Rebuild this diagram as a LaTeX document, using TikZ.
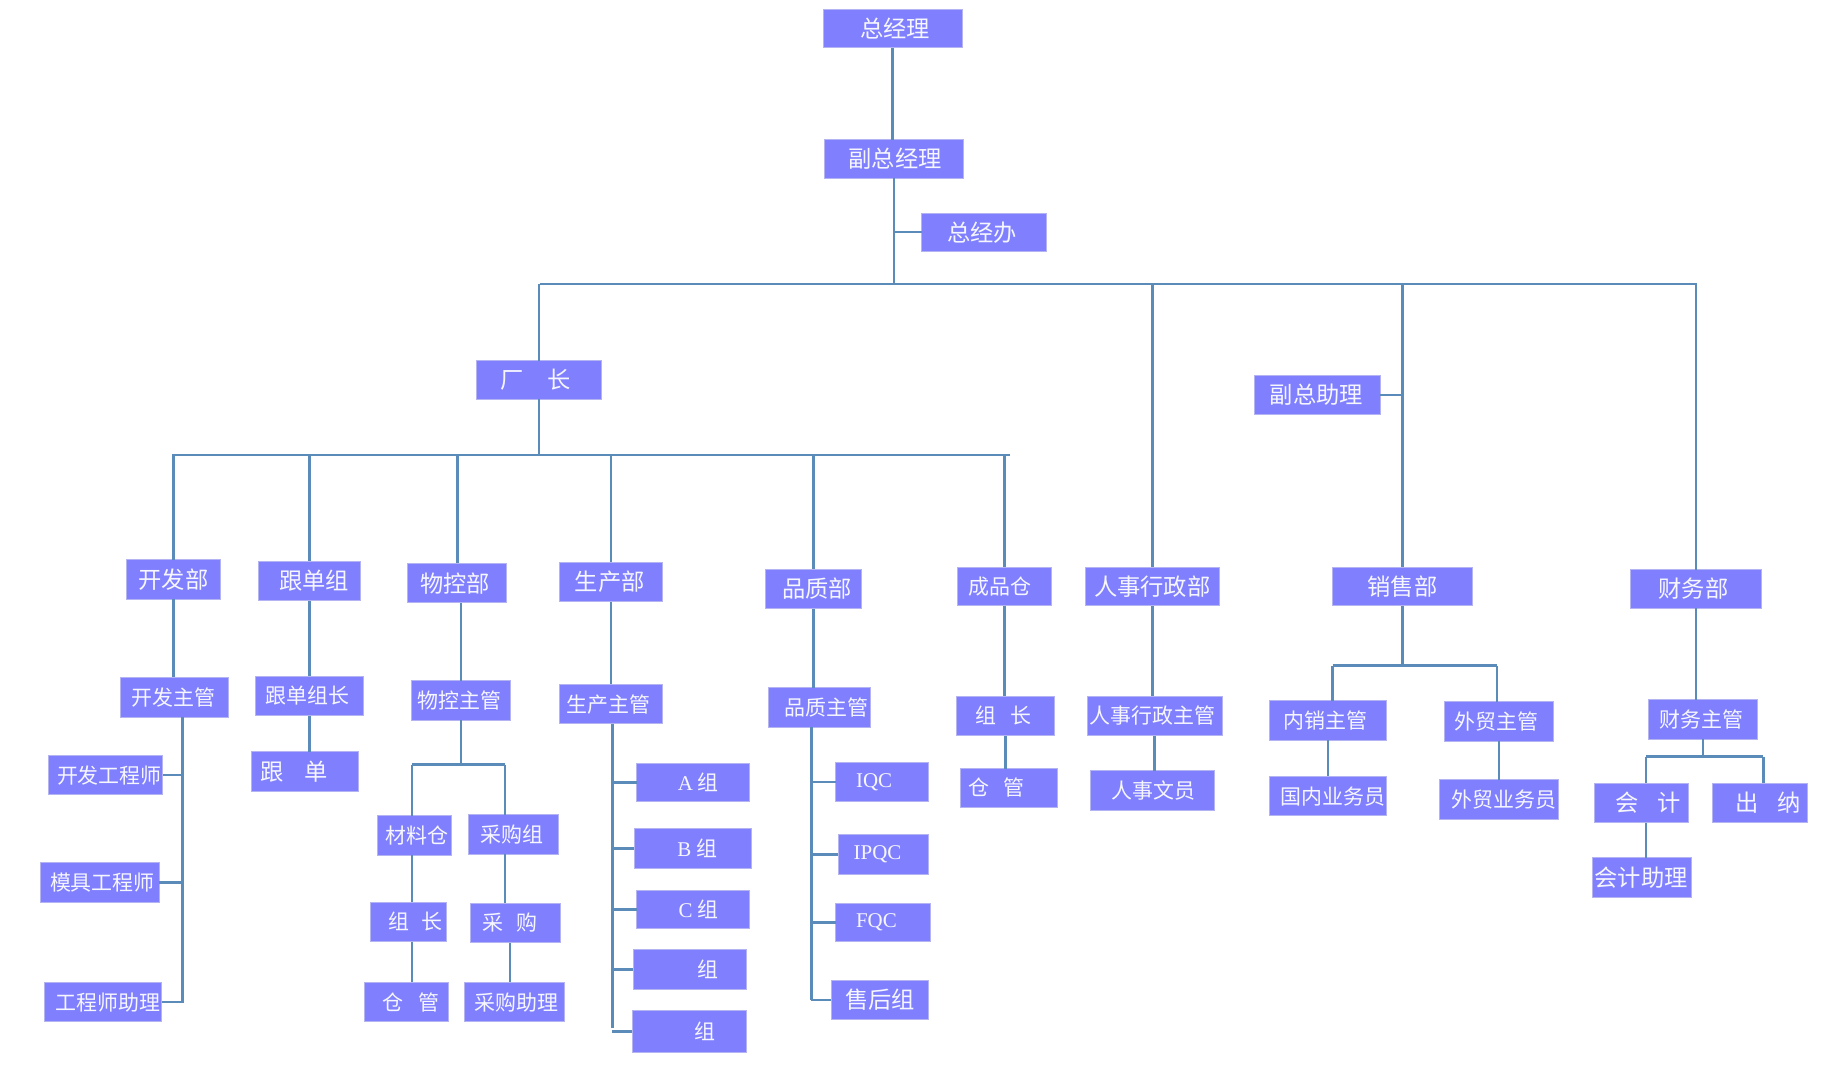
\documentclass[tikz,border=0pt]{standalone}
\usepackage{fontspec}
\setmainfont{Liberation Serif}
\newfontfamily\cjk{Noto Sans CJK SC}
\definecolor{boxfill}{HTML}{8080FF}
\definecolor{boxedge}{HTML}{B4B4F2}
\definecolor{linecol}{HTML}{5B8BB8}
\definecolor{txtcol}{HTML}{F6F6FF}
\tikzset{
  box/.style={fill=boxfill, draw=boxedge, line width=0.8pt, inner sep=0pt, outer sep=0pt},
  txt/.style={text=txtcol, inner sep=0pt, font=\cjk\fontsize{18}{18}\selectfont},
  big/.style={text=txtcol, inner sep=0pt, font=\cjk\fontsize{20}{20}\selectfont},
  ln/.style={draw=linecol, line width=2.2pt},
}
% name, cx, cy, w, h, text x, text style, text
\newcommand\bx[8]{%
  \node[box, minimum width=#4pt, minimum height=#5pt] (#1) at (#2,#3) {};
  \node[#7] (#1t) at (#6,#3) {#8};}
\newcommand\lt[1]{{\rmfamily #1}}
\begin{document}
\begin{tikzpicture}[x=1pt,y=-1pt]
\useasboundingbox (-2,-1) rectangle (1566,923.5);
% ---------- top ----------
\bx{zjl}{765}{23.5}{119}{33}{767}{big}{总经理}
\bx{fzjl}{766}{135.5}{120}{33}{767}{big}{副总经理}
\bx{zjb}{843.5}{198.5}{107}{33}{842}{big}{总经办}
\bx{cz}{461}{325.5}{108}{33}{458}{big}{厂\hspace{1em}长}
\bx{fzzl}{1130}{338.5}{108}{33}{1129}{big}{副总助理}
% ---------- departments ----------
\bx{kfb}{147}{497}{81}{34}{147}{big}{开发部}
\bx{gdz}{264}{498}{88}{34}{268}{big}{跟单组}
\bx{wkb}{391}{500}{85}{34}{389}{big}{物控部}
\bx{scb}{523}{499}{89}{34}{522}{big}{生产部}
\bx{pzb}{697}{505}{83}{34}{700}{big}{品质部}
\bx{cpc}{861}{503}{81}{33}{857}{txt}{成品仓}
\bx{rsb}{988}{503}{115}{33}{988}{big}{人事行政部}
\bx{xsb}{1203}{503}{120}{33}{1203}{big}{销售部}
\bx{cwb}{1455}{505}{113}{33}{1453}{big}{财务部}
% ---------- supervisors ----------
\bx{kfzg}{148}{598}{93}{34}{147}{txt}{开发主管}
\bx{gdzz}{264}{597}{93}{34}{262}{txt}{跟单组长}
\bx{gd}{260}{662}{92}{34}{251}{big}{跟\hspace{0.9em}单}
\bx{wkzg}{394}{601}{85}{34}{393}{txt}{物控主管}
\bx{sczg}{523}{604}{89}{34}{521}{txt}{生产主管}
\bx{pzzg}{702}{607}{87}{34}{708}{txt}{品质主管}
\bx{zz1}{862}{614}{84}{34}{860}{txt}{组\hspace{0.7em}长}
\bx{cg1}{865}{676}{83}{33}{854}{txt}{仓\hspace{0.7em}管}
\bx{rszg}{990}{614}{116}{34}{988}{txt}{人事行政主管}
\bx{rswy}{988}{678}{107}{34}{989}{txt}{人事文员}
\bx{nxzg}{1139}{618}{100}{34}{1137}{txt}{内销主管}
\bx{wmzg}{1286}{619}{94}{34}{1284}{txt}{外贸主管}
\bx{gnyw}{1139}{683}{101}{34}{1143}{txt}{国内业务员}
\bx{wmyw}{1286}{686}{102}{34}{1290}{txt}{外贸业务员}
\bx{cwzg}{1461}{617}{94}{34}{1460}{txt}{财务主管}
\bx{kj}{1408}{689}{81}{34}{1414}{big}{会\hspace{0.8em}计}
\bx{cn}{1510}{689}{82}{34}{1517}{big}{出\hspace{0.8em}纳}
\bx{kjzl}{1409}{753}{85}{34}{1408}{big}{会计助理}
% ---------- 开发 ----------
\bx{kfgc}{89}{665}{98}{34}{92}{txt}{开发工程师}
\bx{mjgc}{84}{757}{102}{34}{86}{txt}{模具工程师}
\bx{gczl}{86.5}{860}{101}{34}{91}{txt}{工程师助理}
% ---------- 物控 ----------
\bx{clc}{354}{717}{64}{34}{356}{txt}{材料仓}
\bx{cgz}{439}{716}{77}{34}{438}{txt}{采购组}
\bx{zz2}{349}{791}{66}{34}{355}{txt}{组\hspace{0.6em}长}
\bx{cg}{441}{792}{77}{34}{436}{txt}{采\hspace{0.6em}购}
\bx{cgg}{347}{860}{72}{34}{351}{txt}{仓\hspace{0.7em}管}
\bx{cgzl}{440}{860}{86}{34}{442}{txt}{采购助理}
% ---------- 生产 ----------
\bx{za}{593.5}{671.5}{97}{33}{598}{txt}{\lt{A} 组}
\bx{zb}{593.5}{728}{101}{34}{597}{txt}{\lt{B} 组}
\bx{zc}{593.5}{780.5}{97}{33}{598}{txt}{\lt{C} 组}
\bx{zd}{590.5}{832}{97}{34}{606}{txt}{组}
\bx{ze}{590}{885}{98}{36}{604}{txt}{组}
% ---------- 品质 ----------
\bx{iqc}{756}{671}{80}{34}{749}{txt}{\lt{IQC}}
\bx{ipqc}{757}{733}{78}{34}{752}{txt}{\lt{IPQC}}
\bx{fqc}{756.5}{791.5}{81}{33}{751}{txt}{\lt{FQC}}
\bx{shz}{754}{858}{84}{34}{754}{big}{售后组}
% ---------- coordinates ----------
\coordinate (m0) at (462,243);
\coordinate (m1) at (1456,243);
\coordinate (c0) at (146,390);
\coordinate (c1) at (866,390);
\coordinate (k1) at (155,861);
\coordinate (w1) at (352,656);
\coordinate (w2) at (432,656);
\coordinate (p1) at (524,882);
\coordinate (q1) at (695,624);
\coordinate (s1) at (1143,571);
\coordinate (s2) at (1284,571);
\coordinate (f1) at (1412,649);
\coordinate (f2) at (1513,649);
% ---------- connectors ----------
\draw[ln] (zjl.south) -- (zjl.south |- fzjl.north);
\draw[ln] (fzjl.south) -- (fzjl.south |- m0);
\draw[ln] (zjb.west) -- (zjb.west -| fzjl.south);
\draw[ln] (m0) -- (m1);
\draw[ln] (cz.north |- m0) -- (cz.north);
\draw[ln] (rsb.north |- m0) -- (rsb.north);
\draw[ln] (xsb.north |- m0) -- (xsb.north);
\draw[ln] (cwb.north |- m0) -- (cwb.north);
\draw[ln] (fzzl.east) -- (fzzl.east -| xsb.north);
% factory
\draw[ln] (cz.south) -- (cz.south |- c0);
\draw[ln] (c0) -- (c1);
\foreach \n in {kfb,gdz,wkb,scb,pzb,cpc} \draw[ln] (\n.north |- c0) -- (\n.north);
\draw[ln] (kfb.south) -- (kfb.south |- kfzg.north);
\draw[ln] (gdzz.north |- gdz.south) -- (gdzz.north);
\draw[ln] (wkzg.north |- wkb.south) -- (wkzg.north);
\draw[ln] (scb.south) -- (scb.south |- sczg.north);
\draw[ln] (pzb.south) -- (pzb.south |- pzzg.north);
\draw[ln] (cpc.south) -- (cpc.south |- zz1.north);
\draw[ln] (zz1.south) -- (zz1.south |- cg1.north);
\draw[ln] (gdzz.south) -- (gdzz.south |- gd.north);
% 开发
\draw[ln] (kfzg.south -| k1) -- (k1);
\foreach \n in {kfgc,mjgc,gczl} \draw[ln] (\n.east) -- (\n.east -| k1);
% 物控
\draw[ln] (wkzg.south) -- (wkzg.south |- w1);
\draw[ln] (w1) -- (w2);
\draw[ln] (w1) -- (w1 |- clc.north);
\draw[ln] (w2) -- (w2 |- cgz.north);
\draw[ln] (w1 |- clc.south) -- (w1 |- zz2.north);
\draw[ln] (w1 |- zz2.south) -- (w1 |- cgg.north);
\draw[ln] (w2 |- cgz.south) -- (w2 |- cg.north);
\draw[ln] (cg.south -| 436,0) -- (cgzl.north -| 436,0);
% 生产
\draw[ln] (sczg.south -| p1) -- (p1);
\foreach \n in {za,zb,zc,zd,ze} \draw[ln] (\n.west) -- (\n.west -| p1);
% 品质
\draw[ln] (pzzg.south -| q1) -- (q1 |- shz.west);
\foreach \n in {iqc,ipqc,fqc,shz} \draw[ln] (\n.west) -- (\n.west -| q1);
% 人事
\draw[ln] (rsb.south) -- (rsb.south |- rszg.north);
\draw[ln] (rszg.south) -- (rszg.south |- rswy.north);
% 销售
\draw[ln] (xsb.south) -- (xsb.south |- s1);
\draw[ln] (s1) -- (s2);
\draw[ln] (s1) -- (s1 |- nxzg.north);
\draw[ln] (s2) -- (s2 |- wmzg.north);
\draw[ln] (nxzg.south) -- (nxzg.south |- gnyw.north);
\draw[ln] (wmzg.south) -- (wmzg.south |- wmyw.north);
% 财务
\draw[ln] (cwb.south) -- (cwb.south |- cwzg.north);
\draw[ln] (cwzg.south) -- (cwzg.south |- f1);
\draw[ln] (f1) -- (f2);
\draw[ln] (f1) -- (f1 |- kj.north);
\draw[ln] (f2) -- (f2 |- cn.north);
\draw[ln] (f1 |- kj.south) -- (f1 |- kjzl.north);
\end{tikzpicture}
\end{document}
